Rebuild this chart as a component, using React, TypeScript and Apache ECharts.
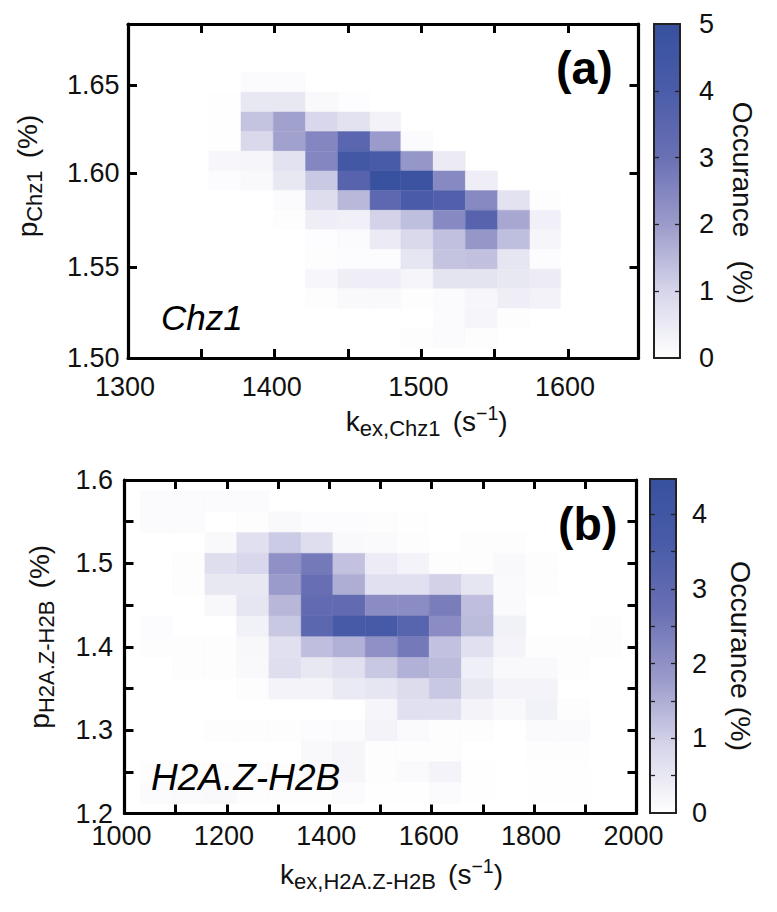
import React, { useEffect, useRef } from "react";
import * as echarts from "echarts";

const FONT = "Liberation Sans, Helvetica, Arial, sans-serif";

const rampColors = ["#ffffff", "#d6d5ea", "#9b9bcb", "#6a70b4", "#4a5ca9", "#37519f"];

// Panel (a) Chz1: bin edges and occurrence matrix (rows from top to bottom)
const chzKexEdges = [1355, 1377, 1399, 1421, 1443, 1465, 1486, 1508, 1530, 1552, 1574, 1595];
const chzPopEdges = [1.6568, 1.646, 1.6352, 1.6244, 1.6136, 1.6028, 1.592, 1.5812, 1.5704, 1.5596, 1.5488, 1.538, 1.5272, 1.5164, 1.5055];
const chzValues = [
  [0, 0.1, 0.1, 0, 0, 0, 0, 0, 0, 0, 0],
  [0.03, 0.55, 0.55, 0.15, 0.06, 0, 0, 0, 0, 0, 0],
  [0.03, 1.3, 1.9, 0.95, 0.7, 0.3, 0, 0, 0, 0, 0],
  [0.03, 0.9, 1.9, 2.5, 3.5, 2.0, 0.1, 0, 0, 0, 0],
  [0.2, 0.25, 0.7, 2.5, 4.4, 4.1, 2.1, 0.5, 0, 0, 0],
  [0.07, 0.15, 0.55, 1.2, 3.6, 4.9, 4.8, 2.4, 0.4, 0, 0],
  [0, 0, 0.1, 0.8, 1.5, 3.4, 4.0, 3.8, 2.4, 0.7, 0.05],
  [0, 0, 0.05, 0.4, 0.35, 1.05, 1.4, 2.4, 3.6, 1.8, 0.35],
  [0, 0, 0, 0.06, 0.1, 0.5, 0.9, 1.35, 2.1, 1.4, 0.25],
  [0, 0, 0, 0.05, 0.07, 0.07, 0.6, 1.3, 1.35, 0.6, 0.07],
  [0, 0, 0, 0.2, 0.4, 0.4, 0.25, 0.65, 0.65, 0.55, 0.45],
  [0, 0, 0, 0.05, 0.15, 0.15, 0.04, 0.1, 0.2, 0.4, 0.3],
  [0, 0, 0, 0, 0, 0, 0, 0.1, 0.25, 0.05, 0],
  [0, 0, 0, 0, 0, 0, 0.05, 0.1, 0.05, 0, 0],
];

// Panel (b) H2A.Z-H2B
const h2aKexEdges = [1031, 1094, 1157, 1219, 1282, 1345, 1407, 1470, 1533, 1595, 1658, 1721, 1784, 1846, 1909, 1972];
const h2aPopEdges = [1.587, 1.562, 1.537, 1.512, 1.487, 1.462, 1.437, 1.412, 1.387, 1.362, 1.337, 1.312, 1.287, 1.262, 1.237, 1.212];
const h2aValues = [
  [0.08, 0.08, 0.08, 0.08, 0, 0, 0, 0, 0, 0, 0, 0, 0, 0, 0],
  [0.08, 0.08, 0, 0.05, 0.12, 0.06, 0.06, 0.05, 0.03, 0, 0, 0, 0, 0, 0],
  [0, 0, 0.12, 0.65, 1.05, 0.7, 0.12, 0.1, 0.05, 0, 0.04, 0.04, 0, 0, 0],
  [0, 0.04, 0.7, 0.85, 2.0, 2.5, 1.2, 0.4, 0.25, 0.05, 0.05, 0.12, 0.05, 0, 0],
  [0, 0.04, 0.5, 0.5, 1.8, 2.75, 1.5, 0.65, 0.65, 0.95, 0.55, 0.1, 0.05, 0, 0],
  [0, 0, 0.15, 0.55, 1.35, 2.9, 2.9, 2.1, 2.1, 2.4, 1.25, 0.1, 0, 0, 0],
  [0.06, 0, 0, 0.3, 1.1, 3.1, 3.7, 3.7, 3.2, 2.1, 1.3, 0.3, 0, 0, 0.05],
  [0.05, 0.04, 0.04, 0.15, 0.65, 1.25, 1.45, 2.0, 2.5, 1.2, 0.65, 0.25, 0.05, 0.04, 0.04],
  [0, 0.05, 0.05, 0.12, 0.7, 0.5, 0.65, 1.1, 1.45, 1.3, 0.35, 0.12, 0.12, 0.04, 0],
  [0, 0, 0, 0.05, 0.25, 0.25, 0.45, 0.55, 0.75, 1.1, 0.5, 0.25, 0.25, 0, 0],
  [0, 0, 0, 0, 0, 0, 0, 0.2, 0.65, 0.65, 0.25, 0.12, 0.3, 0.05, 0],
  [0, 0, 0.04, 0.04, 0.04, 0.06, 0.08, 0.25, 0.1, 0.05, 0.05, 0, 0.1, 0.1, 0],
  [0, 0, 0, 0, 0, 0.12, 0.2, 0.04, 0.04, 0.04, 0, 0, 0.04, 0.04, 0],
  [0.05, 0.05, 0.05, 0.05, 0.05, 0.1, 0.2, 0.04, 0.1, 0.25, 0.03, 0, 0.03, 0.03, 0],
  [0.08, 0.1, 0.12, 0.05, 0.05, 0.05, 0.08, 0.03, 0.03, 0.08, 0.03, 0, 0.03, 0.03, 0],
];

const chzXLabels = [1300, 1400, 1500, 1600];
const chzXTicks = [1350, 1400, 1450, 1500, 1550, 1600];
const chzYLabels = [1.5, 1.55, 1.6016, 1.65];
const chzYTicks = [1.55, 1.6016, 1.65];
const h2aXLabels = [1000, 1200, 1400, 1600, 1800, 2000];
const h2aXTicks = [1100, 1200, 1300, 1400, 1500, 1600, 1700, 1800, 1900];
const h2aYLabels = [1.2, 1.3, 1.4, 1.5, 1.6];
const h2aYTicks = [1.25, 1.3, 1.35, 1.4, 1.45, 1.5, 1.55];
const chzBarLabels = [0, 1, 2, 3, 4, 5];
const chzBarTicks = [1, 2, 3, 4];
const h2aBarLabels = [0, 1, 2, 3, 4];
const h2aBarTicks = [0.5, 1, 1.5, 2, 2.5, 3, 3.5, 4];

const nameRich = {
  i: { fontFamily: FONT, fontSize: 28, lineHeight: 36, color: "#111" },
  s: { fontFamily: FONT, fontSize: 22, lineHeight: 18, verticalAlign: "bottom", color: "#111" },
  u: { fontFamily: FONT, fontSize: 19.5, lineHeight: 24, verticalAlign: "top", color: "#111" },
};

function cells(kex: number[], pop: number[], values: number[][]) {
  const out: number[][] = [];
  values.forEach((row, r) =>
    row.forEach((v, c) => {
      if (v > 0) out.push([kex[c], kex[c + 1], pop[r + 1], pop[r], v]);
    })
  );
  return out;
}

const renderCell = (_: any, api: any) => {
  const p0 = api.coord([api.value(0), api.value(3)]);
  const p1 = api.coord([api.value(1), api.value(2)]);
  return {
    type: "rect",
    shape: { x: p0[0], y: p0[1], width: p1[0] - p0[0], height: p1[1] - p0[1] },
    style: { fill: api.visual("color"), stroke: api.visual("color"), lineWidth: 0.4 },
  };
};

const renderBar = (_: any, api: any) => {
  const p0 = api.coord([0, api.value(1)]);
  const p1 = api.coord([1, api.value(0)]);
  return {
    type: "rect",
    shape: { x: p0[0], y: p0[1], width: p1[0] - p0[0], height: p1[1] - p0[1] },
    style: {
      fill: new echarts.graphic.LinearGradient(
        0, 1, 0, 0,
        rampColors.map((color, i) => ({ offset: i / (rampColors.length - 1), color }))
      ),
    },
  };
};

const frameLine = { show: true, onZero: false, lineStyle: { color: "#000", width: 3.2 } };
const label = { fontFamily: FONT, fontSize: 27, lineHeight: 20, color: "#111" };
const xLabelPadding = [0, 6, 0, 0];
const yLabelPadding = [0, 0, 6, 0];

function mainAxes(grid: number, extent: [number, number], labels: number[], ticks: number[], fmt: (v: number) => string, pos: [string, string], extra: any) {
  const tick = { show: true, inside: true, length: 9, customValues: ticks, lineStyle: { color: "#000", width: 3 } };
  return [
    {
      type: "value", gridIndex: grid, min: extent[0], max: extent[1], position: pos[0], z: 5,
      splitLine: { show: false }, axisLine: frameLine, axisTick: tick,
      axisLabel: { ...label, margin: extra.margin, padding: extra.padding, customValues: labels, formatter: fmt },
      ...extra.name,
    },
    {
      type: "value", gridIndex: grid, min: extent[0], max: extent[1], position: pos[1], z: 5,
      splitLine: { show: false }, axisLine: frameLine, axisTick: tick, axisLabel: { show: false },
    },
  ];
}

function barAxes(grid: number, max: number, labels: number[], ticks: number[], nameText: string, fontSize: number, padLeft: number, gap: number, margin: number) {
  const line = { show: true, onZero: false, lineStyle: { color: "#222", width: 2 } };
  const tick = { show: true, inside: true, length: 5, customValues: ticks, lineStyle: { color: "#222", width: 1.3 } };
  const xs = ["bottom", "top"].map((position) => ({
    type: "value", gridIndex: grid, min: 0, max: 1, position, z: 5,
    splitLine: { show: false }, axisLine: line, axisTick: { show: false }, axisLabel: { show: false },
  }));
  const ys = [
    {
      type: "value", gridIndex: grid, min: 0, max, position: "right", z: 5,
      splitLine: { show: false }, axisLine: line, axisTick: tick,
      axisLabel: { ...label, margin, padding: yLabelPadding, customValues: labels, formatter: (v: number) => String(v) },
      name: nameText, nameLocation: "middle", nameRotate: -90, nameGap: gap,
      nameTextStyle: { fontFamily: FONT, fontSize, color: "#111", padding: [0, 0, 0, padLeft] },
    },
    {
      type: "value", gridIndex: grid, min: 0, max, position: "left", z: 5,
      splitLine: { show: false }, axisLine: line, axisTick: tick, axisLabel: { show: false },
    },
  ];
  return { xs, ys };
}

export default function App() {
  const ref = useRef<HTMLDivElement>(null);
  useEffect(() => {
    document.body.style.margin = "0";
    document.body.style.background = "#fff";
    const chart = echarts.init(ref.current!, undefined, { renderer: "svg" });

    const barA = barAxes(2, 5, chzBarLabels, chzBarTicks, "Occurance   (%)", 28, 24, 48, 19);
    const barB = barAxes(3, 4.47, h2aBarLabels, h2aBarTicks, "Occurance (%)", 28.5, 20, 50, 16);

    chart.setOption({
      animation: false,
      backgroundColor: "#fff",
      grid: [
        { left: 128, top: 24, width: 510.5, height: 334 },
        { left: 124.5, top: 480, width: 512, height: 333.5 },
        { left: 654, top: 24, width: 26, height: 334 },
        { left: 650, top: 479, width: 26, height: 334 },
      ],
      xAxis: [
        ...mainAxes(0, [1300, 1648], chzXLabels, chzXTicks, (v) => String(v), ["bottom", "top"], {
          margin: 19, padding: xLabelPadding,
          name: {
            name: "{i|k}{s|ex,Chz1  }{i|(s}{u|−1}{i|)}", nameLocation: "middle", nameGap: 45,
            nameTextStyle: { padding: [0, 0, 0, 87], rich: nameRich },
          },
        }),
        ...mainAxes(1, [1000, 2000], h2aXLabels, h2aXTicks, (v) => String(v), ["bottom", "top"], {
          margin: 12.5, padding: xLabelPadding,
          name: {
            name: "{i|k}{s|ex,H2A.Z-H2B  }{i|(s}{u|−1}{i|)}", nameLocation: "middle", nameGap: 42.5,
            nameTextStyle: { padding: [0, 0, 0, 22], rich: nameRich },
          },
        }),
        ...barA.xs,
        ...barB.xs,
      ],
      yAxis: [
        ...mainAxes(0, [1.5, 1.6835], chzYLabels, chzYTicks, (v) => v.toFixed(2), ["left", "right"], {
          margin: 8.5, padding: yLabelPadding,
          name: {
            name: "{i|p}{s|Chz1  }{i|(%)}", nameLocation: "middle", nameRotate: 90, nameGap: 83,
            nameTextStyle: { padding: [0, 0, 0, 30], rich: nameRich },
          },
        }),
        ...mainAxes(1, [1.2, 1.6], h2aYLabels, h2aYTicks, (v) => v.toFixed(1), ["left", "right"], {
          margin: 11.5, padding: yLabelPadding,
          name: {
            name: "{i|p}{s|H2A.Z-H2B  }{i|(%)}", nameLocation: "middle", nameRotate: 90, nameGap: 67,
            nameTextStyle: { padding: [0, 0, 0, 20], rich: nameRich },
          },
        }),
        ...barA.ys,
        ...barB.ys,
      ],
      visualMap: [
        { show: false, type: "continuous", seriesIndex: 0, dimension: 4, min: 0, max: 5, inRange: { color: rampColors } },
        { show: false, type: "continuous", seriesIndex: 1, dimension: 4, min: 0, max: 4.47, inRange: { color: rampColors } },
      ],
      series: [
        { type: "custom", xAxisIndex: 0, yAxisIndex: 0, renderItem: renderCell, silent: true, clip: true, data: cells(chzKexEdges, chzPopEdges, chzValues) },
        { type: "custom", xAxisIndex: 2, yAxisIndex: 2, renderItem: renderCell, silent: true, clip: true, data: cells(h2aKexEdges, h2aPopEdges, h2aValues) },
        { type: "custom", xAxisIndex: 4, yAxisIndex: 4, renderItem: renderBar, silent: true, data: [[0, 5]] },
        { type: "custom", xAxisIndex: 6, yAxisIndex: 6, renderItem: renderBar, silent: true, data: [[0, 4.47]] },
      ],
      graphic: [
        { type: "text", z: 10, left: 556, top: 44, style: { text: "(a)", fontFamily: FONT, fontSize: 46.5, fontWeight: "bold", fill: "#000" } },
        { type: "text", z: 10, left: 558, top: 500, style: { text: "(b)", fontFamily: FONT, fontSize: 46.5, fontWeight: "bold", fill: "#000" } },
        { type: "text", z: 10, left: 161, top: 300, style: { text: "Chz1", fontFamily: FONT, fontSize: 35, fontStyle: "italic", fill: "#000" } },
        { type: "text", z: 10, left: 151, top: 759, style: { text: "H2A.Z-H2B", fontFamily: FONT, fontSize: 37, fontStyle: "italic", fill: "#000" } },
      ],
    });
    return () => chart.dispose();
  }, []);
  return <div ref={ref} style={{ width: 777, height: 912 }} />;
}
